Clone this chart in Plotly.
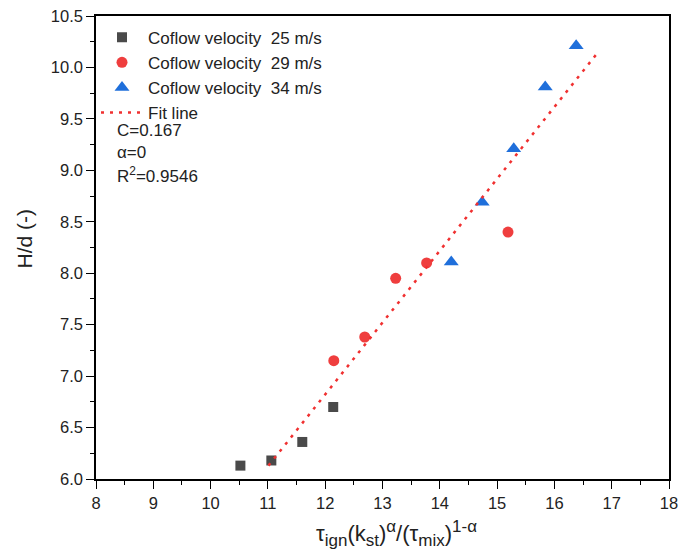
import plotly.graph_objects as go

# Data
x25 = [10.52, 11.06, 11.60, 12.14]
y25 = [6.13, 6.18, 6.36, 6.70]
x29 = [12.15, 12.69, 13.23, 13.77, 15.19]
y29 = [7.15, 7.38, 7.95, 8.10, 8.40]
x34 = [14.20, 14.74, 15.29, 15.84, 16.38]
y34 = [8.11, 8.69, 9.21, 9.81, 10.21]
fit_x = [11.01, 16.75]
fit_y = [6.13, 10.14]

names = ["Coflow velocity \u00a025 m/s", "Coflow velocity \u00a029 m/s",
         "Coflow velocity \u00a034 m/s", "Fit line"]
stats = ["C=0.167", "α=0", "R<sup>2</sup>=0.9546"]

FONT = "Liberation Sans, Arial, sans-serif"

fig = go.Figure()
fig.add_trace(go.Scatter(x=x25, y=y25, mode="markers", name=names[0],
                         marker=dict(symbol="square", size=10, color="#4a4a4a")))
fig.add_trace(go.Scatter(x=x29, y=y29, mode="markers", name=names[1],
                         marker=dict(symbol="circle", size=11, color="#ef3e3e")))
fig.add_trace(go.Scatter(x=x34, y=y34, mode="markers", name=names[2],
                         marker=dict(symbol="triangle-up", size=13, color="#1f6fdb")))
fig.add_trace(go.Scatter(x=fit_x, y=fit_y, mode="lines", name=names[3],
                         line=dict(color="#f03030", width=2.5, dash="3px,6px")))

stat_y = [0.7535, 0.705, 0.6564]
for s, yy in zip(stats, stat_y):
    fig.add_annotation(text=s, xref="paper", yref="paper", x=0.0, y=yy,
                       xanchor="left", yanchor="middle", showarrow=False,
                       xshift=19, font=dict(family=FONT, size=17, color="#222"))

axis_common = dict(showgrid=False, zeroline=False, showline=True, linecolor="black",
                   linewidth=1.5, mirror=True, ticks="outside", ticklen=8, tickwidth=1.3,
                   tickcolor="black", automargin=False,
                   tickfont=dict(family=FONT, size=16.5, color="#222"))

xtitle = ("τ<sub><span style='font-size:17px'>ign</span></sub>(k<sub><span style='font-size:17px'>st</span></sub>)"
          "<sup><span style='font-size:17px'>α</span></sup>/(τ<sub><span style='font-size:17px'>mix</span></sub>)"
          "<sup><span style='font-size:17px'>1-α</span></sup>")

fig.update_xaxes(range=[8, 18], dtick=1, tick0=8,
                 minor=dict(ticks="outside", ticklen=4, dtick=0.5, tickcolor="black", tickwidth=1.2),
                 **axis_common)
fig.update_yaxes(range=[6, 10.5], dtick=0.5, tick0=6, tickformat=".1f",
                 minor=dict(ticks="outside", ticklen=4, dtick=0.25, tickcolor="black", tickwidth=1.2),
                 **axis_common)

# Axis titles as annotations for precise placement
fig.add_annotation(text=xtitle, xref="paper", yref="paper", x=0.5, y=0.0,
                   xanchor="center", yanchor="top", xshift=14, yshift=-36,
                   showarrow=False, font=dict(family=FONT, size=22, color="#222"))
fig.add_annotation(text="H/d (-)", xref="paper", yref="paper", x=0.0, y=0.5,
                   xanchor="center", yanchor="middle", xshift=-72, yshift=9, textangle=-90,
                   showarrow=False, font=dict(family=FONT, size=21, color="#222"))

fig.update_layout(
    width=681, height=554,
    margin=dict(l=96, r=12, t=16, b=75),
    paper_bgcolor="white", plot_bgcolor="white",
    font=dict(family=FONT, color="#222"),
    legend=dict(x=0.0, y=0.992, xanchor="left", yanchor="top", bgcolor="rgba(0,0,0,0)",
                font=dict(family=FONT, size=17, color="#222"), tracegroupgap=0,
                itemwidth=42),
    showlegend=True,
)

fig.write_html("out.html")
